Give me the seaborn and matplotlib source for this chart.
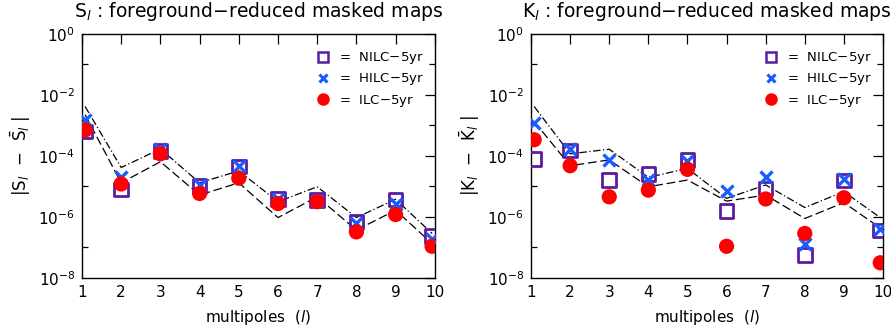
import numpy as np
import pandas as pd
import matplotlib
matplotlib.use("Agg")
import matplotlib.pyplot as plt
import seaborn as sns
from matplotlib.lines import Line2D

# multipoles (edge points sit just inside the frame, as in the picture)
ell = [1.08, 2, 3, 4, 5, 6, 7, 8, 9, 9.93]
ell_ticks = list(range(1, 11))

# log10 values
# S_l panel
s_upper = [-2.38, -4.38, -3.77, -4.88, -4.49, -5.50, -5.01, -6.02, -5.42, -6.54]
s_lower = [-2.65, -4.88, -4.19, -5.28, -4.88, -6.02, -5.34, -6.43, -5.78, -6.87]
s_nilc = [-3.20, -5.10, -3.84, -4.99, -4.35, -5.41, -5.45, -6.16, -5.42, -6.63]
s_hilc = [-2.82, -4.68, -3.77, -4.95, -4.33, -5.41, -5.47, -6.19, -5.56, -6.71]
s_ilc = [-3.15, -4.92, -3.93, -5.23, -4.73, -5.56, -5.50, -6.49, -5.92, -6.96]
# K_l panel
k_upper = [-2.38, -3.93, -3.78, -4.70, -4.41, -5.39, -4.95, -5.69, -5.17, -6.02]
k_lower = [-2.87, -4.32, -4.13, -5.01, -4.79, -5.48, -5.28, -6.05, -5.53, -6.36]
k_nilc = [-4.10, -3.82, -4.79, -4.59, -4.13, -5.81, -5.06, -7.25, -4.81, -6.45]
k_hilc = [-2.93, -3.77, -4.13, -4.79, -4.16, -5.15, -4.68, -6.90, -4.77, -6.41]
k_ilc = [-3.47, -4.32, -5.34, -5.12, -4.44, -6.96, -5.41, -6.54, -5.37, -7.50]

purple = "#5b1c9e"
blue = "#1a5cff"
red = "#ff0000"

sns.set_style("white")
plt.rcParams["font.family"] = ["DejaVu Sans"]
plt.rcParams["mathtext.fontset"] = "dejavusans"
for key in ["text.color", "axes.labelcolor", "xtick.color", "ytick.color"]:
  plt.rcParams[key] = "black"

fig = plt.figure(figsize=(8.91, 3.29), dpi=100)
ax1 = fig.add_axes([0.092, 0.155, 0.396, 0.742])
ax2 = fig.add_axes([0.596, 0.155, 0.395, 0.742])


def panel(ax, upper, lower, nilc, hilc, ilc, letter):
  lines = pd.DataFrame({"ell": ell, "upper": np.power(10.0, upper),
                        "lower": np.power(10.0, lower)})
  sns.lineplot(data=lines, x="ell", y="upper", ax=ax, color="black",
               linewidth=0.9, linestyle=(0, (6, 2, 1, 2)))
  sns.lineplot(data=lines, x="ell", y="lower", ax=ax, color="black",
               linewidth=0.9, linestyle=(0, (7, 3)))
  pts = pd.DataFrame({"ell": ell, "nilc": np.power(10.0, nilc),
                      "hilc": np.power(10.0, hilc),
                      "ilc": np.power(10.0, ilc)})
  sns.scatterplot(data=pts, x="ell", y="nilc", ax=ax, marker="s", s=95,
                  facecolor="none", edgecolor=purple, linewidth=2.0, zorder=3)
  sns.scatterplot(data=pts, x="ell", y="hilc", ax=ax, marker="x", s=75,
                  color=blue, linewidth=2.4, zorder=4)
  sns.scatterplot(data=pts, x="ell", y="ilc", ax=ax, marker="o", s=120,
                  color=red, edgecolor="none", zorder=5)
  ax.set_yscale("log")
  ax.set_xlim(1, 10)
  ax.set_ylim(1e-8, 1)
  ax.set_xticks(ell_ticks)
  ax.set_xticklabels([str(t) for t in ell_ticks])
  ax.set_yticks([1e-8, 1e-6, 1e-4, 1e-2, 1])
  ax.set_yticklabels([r"10$^{-8}$", r"10$^{-6}$", r"10$^{-4}$",
                      r"10$^{-2}$", r"10$^{0}$"])
  ax.set_yticks([1e-7, 1e-5, 1e-3, 1e-1], minor=True)
  ax.yaxis.set_minor_formatter(matplotlib.ticker.NullFormatter())
  ax.tick_params(axis="both", which="major", direction="in", length=7,
                 width=0.9, top=True, right=True, labelsize=11, pad=5)
  ax.tick_params(axis="y", which="minor", direction="in", length=4,
                 width=0.9, left=True, right=True)
  ax.tick_params(axis="x", which="minor", bottom=False, top=False)
  for sp in ax.spines.values():
    sp.set_linewidth(1.0)
    sp.set_color("black")
  ax.set_xlabel(r"multipoles  ($\it{l}$)", fontsize=11, labelpad=6)
  ax.set_ylabel(r"|%s$_{\it{l}}$  $-$  $\bar{\mathrm{%s}}_{\it{l}}$ |" % (letter, letter),
                fontsize=12, labelpad=4)
  ax.set_title(r"%s$_{\it{l}}$ : foreground$-$reduced masked maps" % letter,
               fontsize=13.5, pad=12)
  handles = [
      Line2D([], [], marker="s", linestyle="none", markersize=7,
             markerfacecolor="none", markeredgecolor=purple, markeredgewidth=1.8),
      Line2D([], [], marker="x", linestyle="none", markersize=6,
             color=blue, markeredgewidth=2.2),
      Line2D([], [], marker="o", linestyle="none", markersize=9,
             color=red, markeredgewidth=0),
  ]
  labels = [r"=  NILC$-$5yr", r"=  HILC$-$5yr", r"=  ILC$-$5yr"]
  ax.legend(handles, labels, loc="upper right", frameon=False, fontsize=9.5,
            handlelength=1.0, handletextpad=0.75, labelspacing=0.4,
            borderaxespad=0.0, bbox_to_anchor=(0.985, 0.955))


panel(ax1, s_upper, s_lower, s_nilc, s_hilc, s_ilc, "S")
panel(ax2, k_upper, k_lower, k_nilc, k_hilc, k_ilc, "K")

fig.savefig("out.png", dpi=100)
plt.close(fig)
